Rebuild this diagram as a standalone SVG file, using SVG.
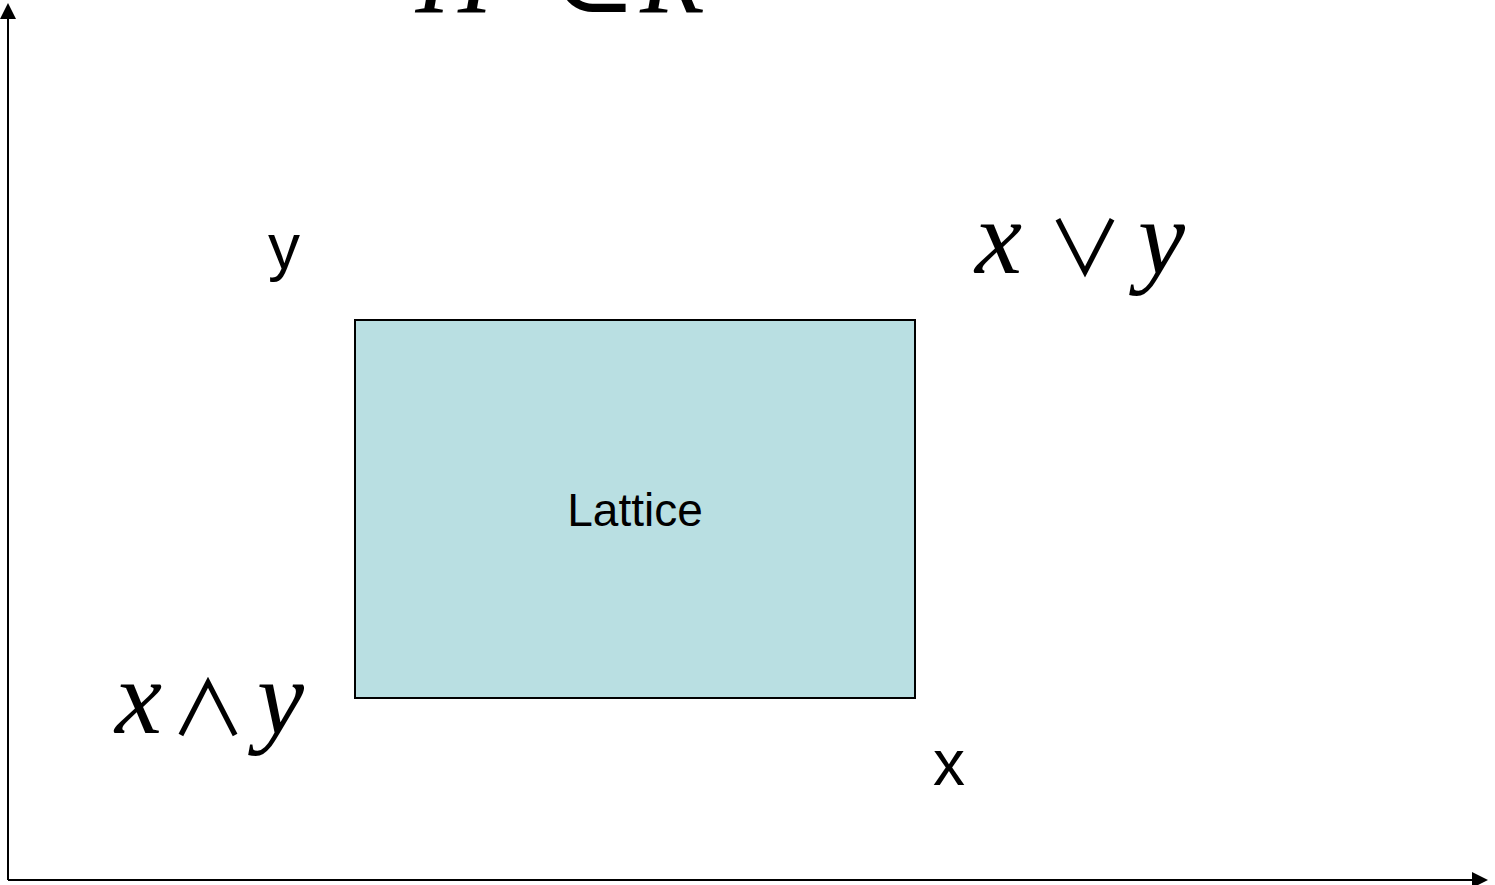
<svg xmlns="http://www.w3.org/2000/svg" width="1495" height="885" viewBox="0 0 1495 885">
<style>
.lbl{font-family:"Liberation Sans",Arial,sans-serif;fill:#000}
.math{font-family:"Liberation Serif","DejaVu Serif",serif;font-size:106px;fill:#000}
.it{font-style:italic}
.op{font-family:"Noto Sans CJK JP","Noto Sans CJK SC",sans-serif;font-weight:400;font-size:76px;fill:#000}
</style>
<defs>
<marker id="ah" markerWidth="16" markerHeight="16" refX="14" refY="8" orient="auto" markerUnits="userSpaceOnUse" viewBox="0 0 16 16">
<path d="M0,0 L16,8 L0,16 Z" fill="#000"/>
</marker>
</defs>
<rect width="1495" height="885" fill="#fff"/>
<g id="axes">
<line x1="8" y1="880" x2="8" y2="5" stroke="#000" stroke-width="2" marker-end="url(#ah)"/>
<line x1="8" y1="880" x2="1486" y2="880" stroke="#000" stroke-width="2" marker-end="url(#ah)"/>
</g>
<g id="title">
<text class="math" y="12"><tspan class="it" x="416">H</tspan><tspan x="548">⊂</tspan><tspan class="it" x="640">R</tspan></text>
</g>
<g id="lattice">
<rect x="355" y="320" width="560" height="378" fill="#B9DFE2" stroke="#000" stroke-width="2"/>
<text class="lbl" x="635" y="526" font-size="46" text-anchor="middle">Lattice</text>
</g>
<g id="label-y"><text class="lbl" x="268" y="269" font-size="64">y</text></g>
<g id="label-x"><text class="lbl" x="933" y="785" font-size="64">x</text></g>
<g id="join">
<text class="math it" x="975" y="273">x</text>
<text class="op" x="1085" y="276" text-anchor="middle">∨</text>
<text class="math it" x="1138" y="273">y</text>
</g>
<g id="meet">
<text class="math it" x="115" y="733">x</text>
<text class="op" x="208" y="736" text-anchor="middle">∧</text>
<text class="math it" x="257" y="733">y</text>
</g>
</svg>
